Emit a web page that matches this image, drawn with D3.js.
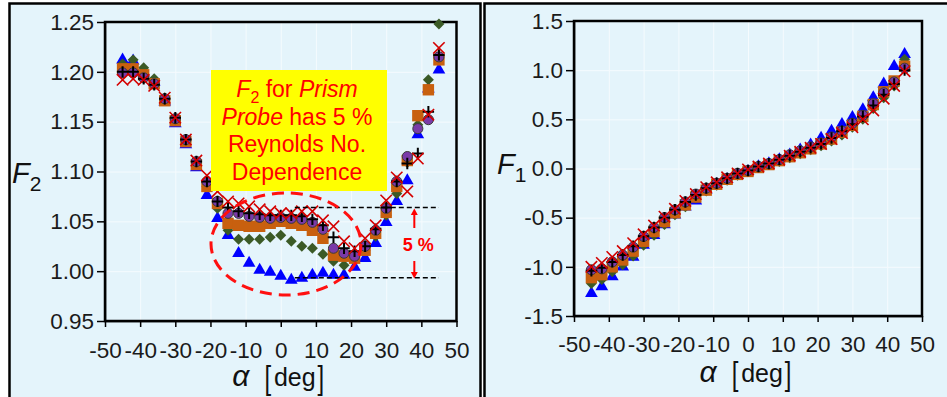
<!DOCTYPE html>
<html>
<head>
<meta charset="UTF-8">
<title>F1 / F2 vs alpha</title>
<style>
  body { margin: 0; background: #fff; }
  svg text { font-family: "Liberation Sans", Arial, sans-serif; }
  .axis text { font-size: 22.5px; fill: #1a1a1a; font-family: "Liberation Sans", Arial, sans-serif; }
  .axis path, .axis line { stroke: #000; stroke-width: 1.5; }
  .grid line { stroke: #f5fbfe; stroke-width: 1; }
  .grid path { display: none; }
</style>
</head>
<body>
<svg id="chart" width="947" height="397"></svg>
<script src="https://d3js.org/d3.v7.min.js"></script>
<script>
  // angle of attack, deg
  var alpha = [-45,-42,-39,-36,-33,-30,-27,-24,-21,-18,-15,-12,-9,-6,-3,0,3,6,9,12,15,18,21,24,27,30,33,36,39,42,45];

  // F2 (left panel), one array per Reynolds number
  var f2Tri  = [1.212,1.211,1.199,1.190,1.170,1.148,1.127,1.104,1.076,1.053,1.036,1.018,1.008,1.001,0.999,0.995,0.991,0.993,0.996,0.998,0.996,0.996,1.004,1.013,1.028,1.049,1.070,1.091,1.137,1.183,1.202];
  var f2Dia  = [1.208,1.212,1.204,1.193,1.174,1.153,1.130,1.108,1.085,1.063,1.041,1.032,1.032,1.032,1.034,1.036,1.030,1.025,1.023,1.017,1.010,1.006,1.011,1.021,1.035,1.056,1.078,1.109,1.147,1.192,1.248];
  var f2Sq   = [1.203,1.203,1.197,1.188,1.171,1.151,1.130,1.107,1.085,1.068,1.048,1.046,1.045,1.045,1.048,1.050,1.048,1.046,1.041,1.033,1.016,1.015,1.013,1.021,1.038,1.059,1.085,1.111,1.156,1.182,1.212];
  var f2Circ = [1.199,1.199,1.194,1.188,1.173,1.153,1.132,1.110,1.090,1.070,1.058,1.058,1.055,1.054,1.053,1.054,1.053,1.052,1.049,1.042,1.023,1.018,1.015,1.025,1.041,1.063,1.090,1.115,1.143,1.152,1.215];
  var f2Plus = [1.200,1.200,1.193,1.187,1.173,1.154,1.132,1.110,1.090,1.070,1.064,1.060,1.058,1.057,1.056,1.056,1.056,1.055,1.052,1.046,1.034,1.023,1.020,1.025,1.042,1.064,1.090,1.108,1.118,1.160,1.217];
  var f2X    = [1.192,1.193,1.192,1.186,1.174,1.154,1.132,1.111,1.096,1.080,1.070,1.068,1.065,1.062,1.060,1.058,1.058,1.060,1.060,1.051,1.045,1.030,1.023,1.033,1.046,1.071,1.094,1.080,1.113,1.157,1.224];

  // F1 (right panel)
  var f1Tri  = [-1.27,-1.20,-1.10,-1.00,-0.90,-0.78,-0.68,-0.57,-0.47,-0.39,-0.33,-0.22,-0.16,-0.11,-0.07,-0.03,0.02,0.05,0.09,0.14,0.19,0.24,0.31,0.38,0.45,0.52,0.60,0.72,0.86,1.04,1.16];
  var f1Dia  = [-1.17,-1.13,-1.05,-0.98,-0.89,-0.78,-0.68,-0.57,-0.47,-0.39,-0.30,-0.23,-0.17,-0.12,-0.07,-0.03,0.01,0.04,0.07,0.11,0.15,0.19,0.23,0.28,0.34,0.42,0.50,0.61,0.72,0.84,1.11];
  var f1Sq   = [-1.11,-1.08,-1.00,-0.93,-0.84,-0.74,-0.64,-0.54,-0.45,-0.37,-0.29,-0.22,-0.16,-0.11,-0.06,-0.03,0.01,0.04,0.08,0.12,0.16,0.20,0.25,0.30,0.37,0.44,0.53,0.65,0.78,0.89,1.04];
  var f1Circ = [-1.03,-1.02,-0.95,-0.88,-0.80,-0.69,-0.60,-0.50,-0.42,-0.34,-0.26,-0.20,-0.15,-0.10,-0.05,-0.02,0.02,0.05,0.09,0.14,0.18,0.22,0.26,0.32,0.38,0.46,0.54,0.66,0.77,0.88,1.02];
  var f1Plus = [-1.04,-1.01,-0.95,-0.88,-0.79,-0.69,-0.60,-0.50,-0.42,-0.34,-0.27,-0.20,-0.15,-0.10,-0.05,-0.02,0.02,0.05,0.09,0.13,0.17,0.21,0.25,0.31,0.38,0.45,0.53,0.64,0.75,0.86,1.00];
  var f1X    = [-1.00,-0.96,-0.90,-0.84,-0.76,-0.67,-0.58,-0.49,-0.41,-0.33,-0.26,-0.19,-0.14,-0.09,-0.05,-0.01,0.02,0.05,0.09,0.13,0.17,0.21,0.25,0.30,0.36,0.42,0.50,0.59,0.71,0.84,0.99];

  var xTicks = [-50,-40,-30,-20,-10,0,10,20,30,40,50];
  var f2Ticks = [0.95,1.00,1.05,1.10,1.15,1.20,1.25];
  var f1Ticks = [-1.5,-1.0,-0.5,0.0,0.5,1.0,1.5];

  var bg = "#e4f4fb";
  var svg = d3.select("#chart");

  // thin stroke symbols for + and x
  var plusType = { draw: function(ctx, size) {
    var r = Math.sqrt(size) / 2;
    ctx.moveTo(-r, 0); ctx.lineTo(r, 0);
    ctx.moveTo(0, -r); ctx.lineTo(0, r);
  }};
  var xType = { draw: function(ctx, size) {
    var r = Math.sqrt(size) / 2;
    ctx.moveTo(-r, -r); ctx.lineTo(r, r);
    ctx.moveTo(-r, r); ctx.lineTo(r, -r);
  }};

  // marker styles, drawing order back to front
  var markers = [
    { type: d3.symbolTriangle, size: 70, fill: "#0000ff", stroke: "none", sw: 0, rot: 0 },
    { type: d3.symbolSquare, size: 60, fill: "#3b5a26", stroke: "none", sw: 0, rot: 45 },
    { type: d3.symbolSquare, size: 130, fill: "#c8600f", stroke: "none", sw: 0, rot: 0 },
    { type: d3.symbolCircle, size: 80, fill: "#7a3aa8", stroke: "#3a3a3a", sw: 1, rot: 0 },
    { type: plusType, size: 130, fill: "none", stroke: "#000", sw: 2, rot: 0 },
    { type: xType, size: 130, fill: "none", stroke: "#d40000", sw: 1.6, rot: 0 }
  ];

  // panel backgrounds / frames
  svg.append("rect").attr("x", 9.5).attr("y", 3.5).attr("width", 471).attr("height", 420)
    .attr("fill", bg).attr("stroke", "#000").attr("stroke-width", 2.5);
  svg.append("rect").attr("x", 484.5).attr("y", 3.5).attr("width", 480).attr("height", 420)
    .attr("fill", bg).attr("stroke", "#000").attr("stroke-width", 2.5);

  function drawPanel(p) {
    var x = d3.scaleLinear().domain([-50, 50]).range([p.x0, p.x1]);
    var y = d3.scaleLinear().domain(p.yDomain).range([p.y1, p.y0]);
    var g = svg.append("g");

    // faint grid
    g.append("g").attr("class", "grid")
      .attr("transform", "translate(0," + p.y1 + ")")
      .call(d3.axisBottom(x).tickValues(xTicks).tickSize(-(p.y1 - p.y0)).tickFormat(""));
    g.append("g").attr("class", "grid")
      .attr("transform", "translate(" + p.x0 + ",0)")
      .call(d3.axisLeft(y).tickValues(p.yTicks).tickSize(-(p.x1 - p.x0)).tickFormat(""));

    // axes
    g.append("g").attr("class", "axis")
      .attr("transform", "translate(0," + p.y1 + ")")
      .call(d3.axisBottom(x).tickValues(xTicks).tickSize(6).tickSizeOuter(0).tickPadding(p.xPad)
        .tickFormat(function(d) { return String(d); }));
    g.append("g").attr("class", "axis")
      .attr("transform", "translate(" + p.x0 + ",0)")
      .call(d3.axisLeft(y).tickValues(p.yTicks).tickSize(8).tickSizeOuter(0).tickPadding(3)
        .tickFormat(function(d) { return d.toFixed(p.dec); }));

    // frame
    g.append("rect").attr("x", p.x0).attr("y", p.y0)
      .attr("width", p.x1 - p.x0).attr("height", p.y1 - p.y0)
      .attr("fill", "none").attr("stroke", "#000").attr("stroke-width", 2.5);

    // markers
    p.series.forEach(function(vals, i) {
      var m = markers[i];
      var sym = d3.symbol().type(m.type).size(m.size);
      g.append("g").selectAll("path")
        .data(vals)
        .join("path")
        .attr("d", sym)
        .attr("transform", function(d, j) {
          return "translate(" + x(alpha[j]) + "," + y(d) + ") rotate(" + m.rot + ")";
        })
        .attr("fill", m.fill)
        .attr("stroke", m.stroke)
        .attr("stroke-width", m.sw);
    });

    // y label
    var yl = g.append("text").attr("x", p.ylx).attr("y", p.yly).attr("fill", "#111");
    yl.append("tspan").attr("font-size", 29).attr("font-style", "italic").text("F");
    yl.append("tspan").attr("font-size", 21).attr("dy", 8).text(p.sub);

    // x title
    var tx = (p.x0 + p.x1) / 2;
    g.append("text").attr("x", tx - 40).attr("y", p.ty)
      .attr("text-anchor", "middle").attr("font-family", "Liberation Serif, serif")
      .attr("font-style", "italic").attr("font-size", 30).attr("fill", "#111").text("α");
    g.append("text").attr("transform", "translate(" + (tx - 13) + "," + (p.ty + 3) + ") scale(1,1.4)")
      .attr("text-anchor", "middle").attr("font-size", 24).attr("fill", "#111").text("[");
    g.append("text").attr("x", tx + 14).attr("y", p.ty)
      .attr("text-anchor", "middle").attr("font-size", 25).attr("fill", "#111").text("deg");
    g.append("text").attr("transform", "translate(" + (tx + 40) + "," + (p.ty + 3) + ") scale(1,1.4)")
      .attr("text-anchor", "middle").attr("font-size", 24).attr("fill", "#111").text("]");

    return { x: x, y: y, g: g };
  }

  var left = drawPanel({
    x0: 105, x1: 456.5, y0: 22, y1: 321, yDomain: [0.95, 1.25], yTicks: f2Ticks, dec: 2, xPad: 15,
    series: [f2Tri, f2Dia, f2Sq, f2Circ, f2Plus, f2X], sub: "2", ylx: 12, yly: 183, ty: 386
  });
  drawPanel({
    x0: 574, x1: 922, y0: 21, y1: 316, yDomain: [-1.5, 1.5], yTicks: f1Ticks, dec: 1, xPad: 14,
    series: [f1Tri, f1Dia, f1Sq, f1Circ, f1Plus, f1X], sub: "1", ylx: 497, yly: 174, ty: 382
  });

  // ---- annotations on the F2 panel ----
  var ax = left.x, ay = left.y, lg = left.g;

  // black dashed reference lines (top of Re band / bottom of Re band)
  [1.064, 0.9935].forEach(function(v) {
    lg.append("line").attr("x1", ax(4)).attr("x2", ax(45)).attr("y1", ay(v)).attr("y2", ay(v))
      .attr("stroke", "#000").attr("stroke-width", 1.5).attr("stroke-dasharray", "5,3");
  });

  // red 5 % arrows
  var arX = ax(38);
  lg.append("line").attr("x1", arX).attr("x2", arX).attr("y1", 228).attr("y2", 213)
    .attr("stroke", "#ff0000").attr("stroke-width", 2);
  lg.append("path").attr("d", "M" + (arX - 3.5) + ",215 L" + arX + ",208.5 L" + (arX + 3.5) + ",215 Z").attr("fill", "#ff0000");
  lg.append("line").attr("x1", arX).attr("x2", arX).attr("y1", 261).attr("y2", 274)
    .attr("stroke", "#ff0000").attr("stroke-width", 2);
  lg.append("path").attr("d", "M" + (arX - 3.5) + ",272 L" + arX + ",278.5 L" + (arX + 3.5) + ",272 Z").attr("fill", "#ff0000");
  lg.append("text").attr("x", arX + 4).attr("y", 251).attr("text-anchor", "middle")
    .attr("font-size", 18).attr("font-weight", "bold").attr("fill", "#ff0000").text("5 %");

  // dashed ellipse
  lg.append("ellipse").attr("cx", 286).attr("cy", 244).attr("rx", 75).attr("ry", 51)
    .attr("fill", "none").attr("stroke", "#ff1010").attr("stroke-width", 3).attr("stroke-dasharray", "12,7");

  // yellow callout
  lg.append("rect").attr("x", 211).attr("y", 70).attr("width", 176).attr("height", 121).attr("fill", "#ffff00");
  var cx = 297;
  var t1 = lg.append("text").attr("x", cx).attr("y", 97).attr("text-anchor", "middle").attr("font-size", 23).attr("fill", "#ff0000");
  t1.append("tspan").attr("font-style", "italic").text("F");
  t1.append("tspan").attr("font-size", 16).attr("dy", 6).text("2");
  t1.append("tspan").attr("dy", -6).text(" for ");
  t1.append("tspan").attr("font-style", "italic").text("Prism");
  var t2 = lg.append("text").attr("x", cx).attr("y", 124.5).attr("text-anchor", "middle").attr("font-size", 23).attr("fill", "#ff0000");
  t2.append("tspan").attr("font-style", "italic").text("Probe");
  t2.append("tspan").text(" has 5 %");
  lg.append("text").attr("x", cx).attr("y", 152).attr("text-anchor", "middle").attr("font-size", 23).attr("fill", "#ff0000").text("Reynolds No.");
  lg.append("text").attr("x", cx).attr("y", 179.5).attr("text-anchor", "middle").attr("font-size", 23).attr("fill", "#ff0000").text("Dependence");
</script>
</body>
</html>
